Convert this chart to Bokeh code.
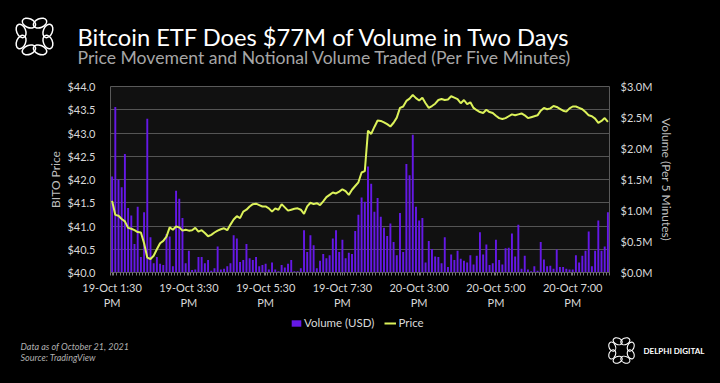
import numpy as np
from bokeh.plotting import figure
from bokeh.layouts import column
from bokeh.models import (Range1d, LinearAxis, FixedTicker, Label, Legend,
                          LegendItem)
from bokeh.embed import file_html
from bokeh.resources import INLINE

# ---------------- data ----------------
volume_musd = [
    1.55, 2.67, 1.50, 1.375, 1.91, 1.04, 0.92, 0.46, 1.06, 0.25,
    0.97, 2.48, 0.57, 0.15, 0.25, 0.14, 0.12, 0.62, 0.58, 0.10,
    1.32, 1.19, 0.88, 0.15, 0.35, 0.04, 0.05, 0.25, 0.25, 0.15,
    0.20, 0.03, 0.07, 0.42, 0.05, 0.06, 0.10, 0.15, 0.60, 0.55,
    0.17, 0.20, 0.46, 0.23,
    0.20, 0.25, 0.10, 0.12, 0.14, 0.05, 0.16, 0.05, 0.02, 0.12,
    0.08, 0.14, 0.20, 0.02, 0.02, 0.07, 0.68, 0.33, 0.60, 0.44,
    0.07, 0.19, 0.30, 0.23, 0.28, 0.55, 0.68, 0.33, 0.53, 0.23,
    0.32, 0.30, 0.67, 0.93, 1.21, 1.14, 1.71, 1.43, 0.98, 1.20,
    0.90, 0.72, 0.59, 0.79, 0.49, 0.28, 0.96, 0.33, 1.75, 1.57,
    2.22, 1.06, 0.84, 0.88, 0.16, 0.51, 0.38, 0.26, 0.25, 0.15,
    0.57, 0.09,
    0.29, 0.20, 0.35, 0.22, 0.19, 0.16, 0.28, 0.13, 0.27, 0.65,
    0.29, 0.45, 0.12, 0.15, 0.53, 0.20, 0.13, 0.39, 0.40, 0.63,
    0.26, 0.77, 0.06, 0.27, 0.05, 0.02, 0.10, 0.03, 0.49, 0.21,
    0.10, 0.11, 0.06, 0.37, 0.09, 0.09, 0.06, 0.05, 0.05, 0.28,
    0.16, 0.27, 0.35, 0.66, 0.10, 0.35, 0.84, 0.35, 0.42, 0.97,
]

price = [
    41.54, 41.24, 41.22, 41.15, 41.10, 40.96, 40.94, 40.91, 40.87, 40.86,
    40.63, 40.32, 40.29, 40.36, 40.50, 40.63, 40.68, 40.77, 40.97, 40.92,
    40.99, 40.97, 40.90, 40.92, 40.90, 40.91, 40.96, 40.88, 40.91, 40.85,
    40.78, 40.81, 40.86, 40.90, 40.93, 40.95, 40.91, 41.03, 41.14, 41.21,
    41.17, 41.31, 41.35, 41.42, 41.47, 41.48, 41.45,
    41.42, 41.42, 41.38, 41.31, 41.38, 41.35, 41.47, 41.40, 41.33, 41.35,
    41.37, 41.38, 41.35,
    41.26, 41.42, 41.50, 41.47, 41.49, 41.45, 41.53, 41.62, 41.67, 41.72,
    41.70, 41.74, 41.79, 41.75, 41.67, 41.78, 41.86, 41.94, 42.15, 42.18,
    43.05, 42.98, 43.13, 43.27, 43.26, 43.23, 43.19, 43.14, 43.22, 43.33,
    43.54, 43.57, 43.69, 43.74, 43.82, 43.75, 43.70, 43.76, 43.64, 43.54,
    43.58, 43.63, 43.71, 43.73, 43.71, 43.72,
    43.79, 43.76, 43.73, 43.64, 43.71, 43.62, 43.66, 43.54, 43.49, 43.45,
    43.43, 43.50, 43.45, 43.43, 43.37, 43.32, 43.30, 43.32, 43.36, 43.40,
    43.38, 43.40, 43.42, 43.38, 43.32, 43.34, 43.36, 43.38, 43.48, 43.54,
    43.51, 43.53, 43.58, 43.56, 43.52, 43.48, 43.46, 43.53, 43.57, 43.57,
    43.54, 43.51, 43.45, 43.38, 43.36, 43.31, 43.22, 43.26, 43.32, 43.24,
]

tick_index = [0, 24, 48, 72, 96, 120, 144]
tick_labels = ["19-Oct 1:30\nPM", "19-Oct 3:30\nPM", "19-Oct 5:30\nPM",
               "19-Oct 7:30\nPM", "20-Oct 3:00\nPM", "20-Oct 5:00\nPM",
               "20-Oct 7:00\nPM"]
price_ticks = [40.0, 40.5, 41.0, 41.5, 42.0, 42.5, 43.0, 43.5, 44.0]
price_labels = ["$40.0", "$40.5", "$41.0", "$41.5", "$42.0", "$42.5",
                "$43.0", "$43.5", "$44.0"]
volume_ticks = [0.0, 0.5e6, 1.0e6, 1.5e6, 2.0e6, 2.5e6, 3.0e6]
volume_labels = ["$0.0M", "$0.5M", "$1.0M", "$1.5M", "$2.0M", "$2.5M", "$3.0M"]

title = "Bitcoin ETF Does $77M of Volume in Two Days"
subtitle = "Price Movement and Notional Volume Traded (Per Five Minutes)"
note1 = "Data as of October 21, 2021"
note2 = "Source: TradingView"
brand = "DELPHI DIGITAL"

# ---------------- styling ----------------
FONT = "Lato"
BAR = "#6518e6"
LINE = "#dcf25a"
TXT = "#d9d9d9"
BG = "#000000"

W = 720
HEAD_H, MAIN_H, FOOT_H = 72, 240, 71
FL, FR = 110, 609          # frame left/right (px)
FT, FB = 14, 206           # frame top/bottom inside the main figure (px)


def no_align(f):
    try:
        f.frame_align = False
    except Exception:
        pass


def blank(height):
    f = figure(width=W, height=height, output_backend="svg",
               toolbar_location=None, x_axis_type=None, y_axis_type=None,
               x_range=Range1d(0, W), y_range=Range1d(height, 0),
               min_border=0, background_fill_color=BG, border_fill_color=BG,
               outline_line_color=None)
    f.xgrid.visible = False
    f.ygrid.visible = False
    no_align(f)
    return f


def ring_logo(f, cx, cy, R, w, h, lw):
    ang = [k * np.pi / 4 + np.pi / 8 for k in range(8)]
    f.ellipse(x=[cx + R * np.cos(a) for a in ang],
              y=[cy + R * np.sin(a) for a in ang],
              width=w, height=h, angle=[a + np.pi / 2 for a in ang],
              fill_alpha=0, line_color="#ffffff", line_width=lw)


def text(f, x, y, s, color, size, style="normal"):
    f.add_layout(Label(x=x, y=y, text=s, text_color=color, text_font=FONT,
                       text_font_size=size, text_font_style=style,
                       text_align="left", text_baseline="middle"))


# ---------------- header ----------------
head = blank(HEAD_H)
text(head, 77, 36, title, "#ffffff", "23.7px")
text(head, 77, 57, subtitle, "#a6a6a6", "17.6px")
ring_logo(head, 34, 36, 14.5, 14, 9, 1.5)

# ---------------- main chart ----------------
N = len(volume_musd)
idx = list(range(N))
volume = [v * 1e6 for v in volume_musd]

p = figure(width=W, height=MAIN_H, output_backend="svg", toolbar_location=None,
           x_range=Range1d(-0.5, N - 0.5), y_range=Range1d(40.0, 44.0),
           min_border_left=FL, min_border_right=W - FR,
           min_border_top=FT, min_border_bottom=MAIN_H - FB,
           background_fill_color="#111111", border_fill_color=BG,
           outline_line_color="#5a5a5a", outline_line_width=1)
no_align(p)
p.extra_y_ranges = {"vol": Range1d(0.0, 3.0e6)}

bars = p.vbar(x=idx, top=volume, bottom=0, width=0.6, y_range_name="vol",
              fill_color=BAR, line_color=None)
ln = p.line(idx, price, line_color=LINE, line_width=2)

p.xgrid.visible = False
p.ygrid.ticker = FixedTicker(ticks=price_ticks)
p.ygrid.grid_line_color = "#555555"
p.ygrid.grid_line_width = 1

ya = p.yaxis[0]
ya.ticker = FixedTicker(ticks=price_ticks)
ya.major_label_overrides = {t: l for t, l in zip(price_ticks, price_labels)}
ya.axis_label = "BITO Price"

ra = LinearAxis(y_range_name="vol", ticker=FixedTicker(ticks=volume_ticks))
ra.major_label_overrides = {t: l for t, l in zip(volume_ticks, volume_labels)}
ra.axis_label = "Volume (Per 5 Minutes)"
p.add_layout(ra, "right")

for ax in (ya, ra):
    ax.axis_line_color = None
    ax.major_tick_line_color = None
    ax.minor_tick_line_color = None
    ax.major_label_text_color = TXT
    ax.major_label_text_font = FONT
    ax.major_label_text_font_size = "11px"
    ax.axis_label_text_color = "#bfbfbf"
    ax.axis_label_text_font = FONT
    ax.axis_label_text_font_size = "12px"
    ax.axis_label_text_font_style = "normal"
ya.major_label_standoff = 9
ya.axis_label_standoff = 1
ra.major_label_standoff = 5
ra.axis_label_standoff = 4

xa = p.xaxis[0]
xa.ticker = FixedTicker(ticks=tick_index,
                        minor_ticks=[i - 0.5 for i in range(N + 1)])
xa.major_label_overrides = {t: l for t, l in zip(tick_index, tick_labels)}
xa.axis_line_color = "#5a5a5a"
xa.major_tick_line_color = "#777777"
xa.minor_tick_line_color = "#777777"
xa.major_tick_in = 0
xa.minor_tick_in = 0
xa.major_tick_out = 3
xa.minor_tick_out = 3
xa.major_label_standoff = 5
xa.major_label_text_color = TXT
xa.major_label_text_font = FONT
xa.major_label_text_font_size = "11px"

# ---------------- footer ----------------
foot = blank(FOOT_H)
# hidden copies of the two series: they only feed the legend swatches
leg_bar = foot.vbar(x=idx, top=volume, bottom=volume, width=0.6,
                    fill_color=BAR, line_color=None, visible=False)
leg_line = foot.line(x=idx, y=price, line_color=LINE, line_width=2,
                     visible=False)
legend = Legend(items=[LegendItem(label="Volume (USD)", renderers=[leg_bar]),
                       LegendItem(label="Price", renderers=[leg_line])],
                orientation="horizontal", location=(290, FOOT_H - 17),
                background_fill_alpha=0, border_line_color=None,
                inactive_fill_alpha=0,
                label_text_color=TXT, label_text_font=FONT,
                label_text_font_size="11.5px", label_height=12,
                glyph_width=12, glyph_height=8,
                spacing=10, padding=0, margin=0, label_standoff=2)
foot.add_layout(legend, "center")
text(foot, 20, 34, note1, "#b0b0b0", "9px", "italic")
text(foot, 20, 45, note2, "#b0b0b0", "9px", "italic")
text(foot, 643, 38, brand, "#ffffff", "8px", "bold")
ring_logo(foot, 621, 38, 10, 9.5, 6.5, 1.1)

layout = column(head, p, foot, spacing=0)
layout.styles = {"background-color": BG}

html = file_html(layout, INLINE)
html = html.replace(
    "</head>",
    "<style>html, body { background-color: #000000; overflow: hidden; }</style></head>",
    1)
open("out.html", "w").write(html)
